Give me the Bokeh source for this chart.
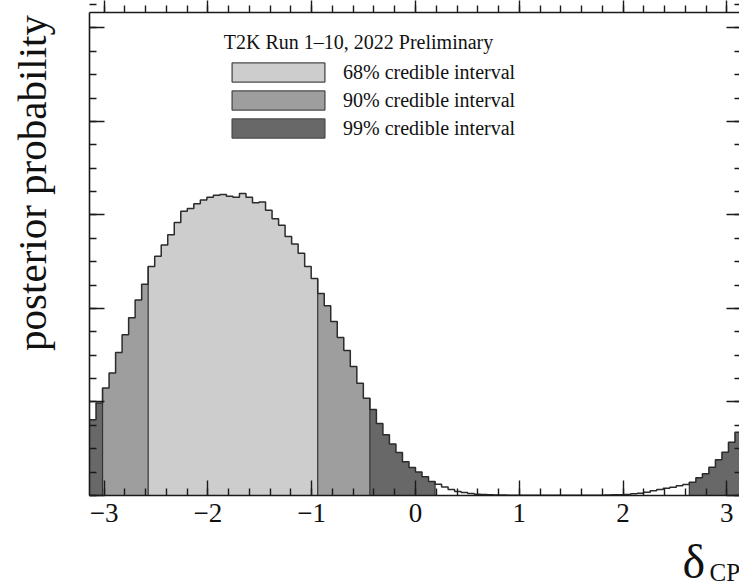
import numpy as np
from bokeh.plotting import figure
from bokeh.models import (Range1d, LinearAxis, FixedTicker, Label, Legend,
                          LegendItem)
from bokeh.embed import file_html
from bokeh.resources import INLINE

# ---------------- data ----------------
n_bins = 100                       # histogram binning over [-pi, pi]
posterior = [
    0.0081, 0.0099, 0.0115, 0.0131, 0.0153, 0.0172, 0.0190, 0.0209, 0.0226, 0.0245,
    0.0256, 0.0268, 0.0279, 0.0292, 0.0304, 0.0307, 0.0312, 0.0316, 0.0319, 0.0321,
    0.0322, 0.0320, 0.0319, 0.0323, 0.0319, 0.0313, 0.0314, 0.0305, 0.0296, 0.0289,
    0.0277, 0.0269, 0.0259, 0.0245, 0.0232, 0.0216, 0.0203, 0.0186, 0.0169, 0.0155,
    0.0138, 0.0120, 0.0104, 0.0092, 0.0077, 0.0065, 0.0055, 0.0046, 0.0036, 0.0030,
    0.0025, 0.0020, 0.0015, 0.0012, 0.0009, 0.00064, 0.00043, 0.00032, 0.00021, 0.00014,
    0.00011, 0.00008, 0.00006, 0.00005, 0.00004, 0.00003, 0.00003, 0.00002, 0.00002, 0.00002,
    0.00002, 0.00002, 0.00002, 0.00002, 0.00002, 0.00002, 0.00002, 0.00003, 0.00004, 0.00005,
    0.00007, 0.00008, 0.00011, 0.00018, 0.00025, 0.00035, 0.00050, 0.00064, 0.00078, 0.00089,
    0.00104, 0.00118, 0.00142, 0.00189, 0.00232, 0.00303, 0.00382, 0.00463, 0.00570, 0.00677,
]
ci68 = [(-2.576, -0.942)]
ci90 = [(-3.016, -0.440)]
ci99 = [(-3.1416, 0.188), (2.639, 3.1416)]
level_names = ["68% credible interval", "90% credible interval", "99% credible interval"]
x_tick_values = [-3, -2, -1, 0, 1, 2, 3]
x_tick_labels = ["\u22123", "\u22122", "\u22121", "0", "1", "2", "3"]
header_text = "T2K Run 1\u201310, 2022 Preliminary"
y_title = "posterior probability"
x_title_main = "\u03b4"
x_title_sub = "CP"

# ---------------- styling / layout ----------------
W, H = 739, 583
XA, XB = -np.pi, np.pi             # axis box in data units
YA, YB = 0.0, 0.05171
PXA, PXB = 89.0, 741.0             # where the axis box sits on the page (px)
PYA, PYB = 495.0, 11.5
kx = (XB - XA) / (PXB - PXA)
ky = (YB - YA) / (PYA - PYB)


def px_x(px):
    return XA + (px - PXA) * kx


def px_y(py):
    return YA + (PYA - py) * ky


level_colors = ["#cdcdcd", "#9e9e9e", "#686868"]
ink = "#1a1a1a"
serif = "Liberation Serif"

edges = np.linspace(XA, XB, n_bins + 1)
centers = 0.5 * (edges[:-1] + edges[1:])
vals = np.array(posterior)


def level_of(c):
    for lvl, ivs in enumerate([ci68, ci90, ci99]):
        for a, b in ivs:
            if a <= c <= b:
                return lvl
    return None


levels = [level_of(c) for c in centers]

p = figure(width=W, height=H,
           x_range=Range1d(px_x(0), px_x(W)), y_range=Range1d(px_y(H), px_y(0)),
           output_backend="svg", toolbar_location=None,
           min_border_left=0, min_border_right=0, min_border_top=0, min_border_bottom=0)
p.outline_line_color = None
p.xgrid.visible = False
p.ygrid.visible = False
p.background_fill_color = "white"
p.border_fill_color = "white"

# filled credible-interval regions: one step-shaped polygon per contiguous run of bins
runs = []
start = 0
for i in range(1, n_bins + 1):
    if i == n_bins or levels[i] != levels[start]:
        if levels[start] is not None:
            runs.append((start, i - 1, levels[start]))
        start = i
for lvl in range(3):
    xs_list, ys_list = [], []
    for a, b, l in runs:
        if l != lvl:
            continue
        xs, ys = [edges[a]], [0.0]
        for j in range(a, b + 1):
            xs += [edges[j], edges[j + 1]]
            ys += [vals[j], vals[j]]
        xs.append(edges[b + 1])
        ys.append(0.0)
        xs_list.append(xs)
        ys_list.append(ys)
    p.patches(xs=xs_list, ys=ys_list, fill_color=level_colors[lvl], line_color=None)

# boundaries of the intervals
bx, by = [], []
for ivs in [ci68, ci90, ci99]:
    for a, b in ivs:
        for e in (a, b):
            k = int(round((e - XA) / (XB - XA) * n_bins))
            if 0 < k < n_bins:
                bx.append(edges[k])
                by.append(max(vals[k - 1], vals[k]))
p.segment(x0=bx, y0=[0] * len(bx), x1=bx, y1=by, line_color="#333333", line_width=1.2)

# histogram outline
p.step(x=edges, y=np.append(vals, vals[-1]), mode="after",
       line_color="#2b2b2b", line_width=1.5)

# legend (swatch-only renderers, nothing drawn in the plot)
nan = float("nan")
leg_r = []
for lvl in range(3):
    r = p.quad(left=[nan], right=[nan], top=[nan], bottom=[nan], fill_color=level_colors[lvl],
               line_color="#4a4a4a", line_width=1.3)
    leg_r.append(r)

legend = Legend(items=[LegendItem(label=level_names[i], renderers=[leg_r[i]]) for i in range(3)],
                location=(220, 443), orientation="vertical",
                glyph_width=116, glyph_height=24, label_standoff=7, spacing=4,
                padding=0, margin=0, border_line_color=None, background_fill_alpha=0,
                label_text_font=serif, label_text_font_size="20px", label_text_color="#111111")
p.add_layout(legend)

# axes: ticks on all four sides, pointing into the box
xticker = FixedTicker(ticks=x_tick_values, minor_ticks=list(np.round(np.arange(-3.0, 3.01, 0.2), 1)))
yticker = FixedTicker(ticks=list(np.round(np.arange(0, 0.0501, 0.01), 4)),
                      minor_ticks=list(np.round(np.arange(0, 0.0526, 0.0025), 5)))


def style(ax, ticker, show_labels=False, line=True, flip=False):
    ax.ticker = ticker
    major, minor = 15, 7
    if flip:
        ax.major_tick_in, ax.major_tick_out = 0, major
        ax.minor_tick_in, ax.minor_tick_out = 0, minor
    else:
        ax.major_tick_in, ax.major_tick_out = major, 0
        ax.minor_tick_in, ax.minor_tick_out = minor, 0
    ax.major_tick_line_color = ink
    ax.minor_tick_line_color = ink
    ax.major_tick_line_width = 1.4
    ax.minor_tick_line_width = 1.4
    ax.axis_line_color = ink if line else None
    ax.axis_line_width = 1.6
    if not show_labels:
        ax.major_label_text_color = None


bottom = p.xaxis[0]
style(bottom, xticker, show_labels=True)
bottom.fixed_location = YA
bottom.bounds = (XA, XB)
bottom.major_label_overrides = {v: s for v, s in zip(x_tick_values, x_tick_labels)}
bottom.major_label_text_font = serif
bottom.major_label_text_font_size = "27px"
bottom.major_label_text_color = "#111111"
bottom.major_label_standoff = 8

left = p.yaxis[0]
style(left, yticker)
left.fixed_location = XA
left.bounds = (YA, YB)

top_ax = LinearAxis(fixed_location=YB, bounds=(XA, XB))
style(top_ax, xticker, flip=True)
p.add_layout(top_ax, "above")
right_ax = LinearAxis(fixed_location=XB, bounds=(YA, YB))
style(right_ax, yticker)
p.add_layout(right_ax, "right")

# texts (anchored at the middle of the line box)
p.add_layout(Label(x=px_x(223.3), y=px_y(41.5), text=header_text, text_font=serif,
                   text_font_size="20px", text_color="#111111",
                   text_align="left", text_baseline="middle"))
p.add_layout(Label(x=px_x(31), y=px_y(14.5), text=y_title, text_font=serif,
                   text_font_size="41px", text_color="#111111", angle=np.pi / 2,
                   text_align="right", text_baseline="middle"))
p.add_layout(Label(x=px_x(682), y=px_y(561), text=x_title_main, text_font=serif,
                   text_font_size="48px", text_color="#111111",
                   text_align="left", text_baseline="middle"))
p.add_layout(Label(x=px_x(709), y=px_y(572), text=x_title_sub, text_font=serif,
                   text_font_size="25px", text_color="#111111",
                   text_align="left", text_baseline="middle"))

open("out.html", "w").write(file_html(p, INLINE))
